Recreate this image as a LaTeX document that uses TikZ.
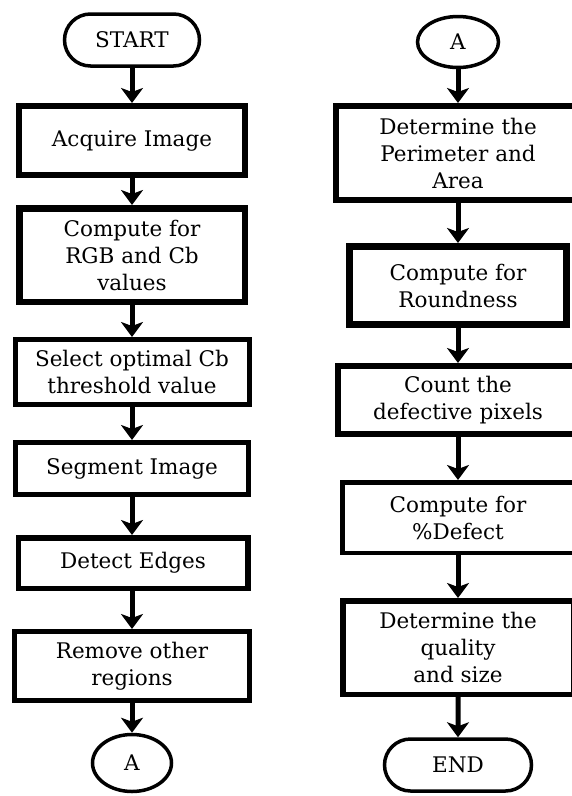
\documentclass[tikz,border=0pt]{standalone}
\usepackage{fontspec}
\setmainfont{DejaVu Serif}
\usetikzlibrary{shapes.geometric,shapes.misc,arrows.meta}
\tikzset{
  lbl/.style={font=\fontsize{21.5}{27}\selectfont},
  box/.style={draw, rectangle, align=center, inner sep=2pt, lbl},
  term/.style={draw, rounded rectangle, line width=3.5pt, inner sep=2pt, lbl},
  conn/.style={draw, ellipse, line width=3.5pt, inner sep=0pt, lbl},
  flow/.style={line width=5pt, -{Stealth[length=15pt,width=22pt,inset=4pt]}}
}
\begin{document}
\begin{tikzpicture}[x=1pt,y=-1pt]
\useasboundingbox (0,0) rectangle (571,796);
% left column
\node[term, minimum width=139pt, minimum height=52pt] (start) at (132,40) {START};
\node[box, line width=6pt, minimum width=226pt, minimum height=69pt] (acq) at (132,140.5) {Acquire Image};
\node[box, line width=6.5pt, minimum width=225.5pt, minimum height=93.5pt] (rgb) at (132,255) {Compute for\\RGB and Cb\\values};
\node[box, line width=5pt, minimum width=234pt, minimum height=65pt] (sel) at (132,372) {Select optimal Cb\\threshold value};
\node[box, line width=5pt, minimum width=233pt, minimum height=52pt] (seg) at (132,468.5) {Segment Image};
\node[box, line width=5.5pt, minimum width=229.5pt, minimum height=50.5pt] (det) at (133,563) {Detect Edges};
\node[box, line width=5pt, minimum width=235pt, minimum height=69pt] (rem) at (132,666) {Remove other\\regions};
\node[conn, minimum width=79pt, minimum height=57pt] (a1) at (132,763) {A};
% right column
\node[conn, minimum width=81pt, minimum height=51pt] (a2) at (458,42) {A};
\node[box, line width=6pt, minimum width=244pt, minimum height=94pt] (per) at (458,153) {Determine the\\Perimeter and\\Area};
\node[box, line width=7pt, minimum width=217pt, minimum height=78pt] (rnd) at (458,285.5) {Compute for\\Roundness};
\node[box, line width=6pt, minimum width=240pt, minimum height=68pt] (cnt) at (458,400) {Count the\\defective pixels};
\node[box, line width=4.5pt, minimum width=231.5pt, minimum height=70.5pt] (pct) at (458,517.5) {Compute for\\\%Defect};
\node[box, line width=5.5pt, minimum width=230.5pt, minimum height=93.5pt] (qual) at (458,647.5) {Determine the\\quality\\and size};
\node[term, minimum width=151pt, minimum height=52pt] (end) at (458,765) {END};
% connectors
\draw[flow] (start) -- (acq);
\draw[flow] (acq) -- (rgb);
\draw[flow] (rgb) -- (sel);
\draw[flow] (sel) -- (seg);
\draw[flow] (seg) -- (seg.south |- det.north);
\draw[flow] (det.south -| rem.north) -- (rem.north);
\draw[flow] (rem) -- (a1);
\draw[flow] (a2) -- (per);
\draw[flow] (per) -- (rnd);
\draw[flow] (rnd) -- (cnt);
\draw[flow] (cnt) -- (pct);
\draw[flow] (pct) -- (qual);
\draw[flow] (qual) -- (end);
\end{tikzpicture}
\end{document}
